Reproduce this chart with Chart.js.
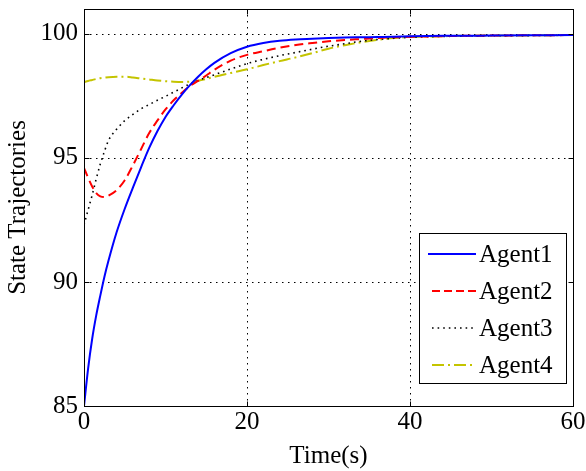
<!DOCTYPE html>
<html>
<head>
<meta charset="utf-8">
<script src="https://cdn.jsdelivr.net/npm/chart.js@4.4.1/dist/chart.umd.min.js"></script>
<style>
html,body{margin:0;padding:0;background:#fff;}
#wrap{width:586px;height:471px;position:relative;}
</style>
</head>
<body>
<div id="wrap"><canvas id="c" width="586" height="471"></canvas></div>
<script>
// ---- data ----
const time   = [0, 0.5, 1, 1.5, 2, 2.5, 3, 4, 5, 6, 7, 8, 9, 10, 11, 12, 13, 14, 15, 16, 18, 20, 22, 24, 26, 28, 30, 32, 34, 36, 38, 40, 45, 50, 55, 60];
const agent1 = [85.0, 86.5, 87.7, 88.65, 89.45, 90.2, 90.85, 92.0, 92.95, 93.8, 94.62, 95.4, 96.07, 96.65, 97.12, 97.55, 97.93, 98.27, 98.57, 98.83, 99.22, 99.48, 99.63, 99.72, 99.77, 99.8, 99.83, 99.85, 99.86, 99.87, 99.88, 99.9, 99.92, 99.93, 99.94, 99.95];
const agent2 = [94.6, 94.2, 93.85, 93.58, 93.45, 93.42, 93.48, 93.7, 94.1, 94.7, 95.35, 96.0, 96.5, 96.95, 97.32, 97.62, 97.9, 98.1, 98.32, 98.55, 98.92, 99.15, 99.3, 99.44, 99.55, 99.63, 99.7, 99.75, 99.79, 99.83, 99.86, 99.88, 99.91, 99.93, 99.94, 99.95];
const agent3 = [92.3, 92.9, 93.5, 94.15, 94.75, 95.25, 95.7, 96.15, 96.5, 96.75, 96.98, 97.15, 97.32, 97.48, 97.65, 97.82, 97.98, 98.12, 98.24, 98.35, 98.58, 98.8, 98.97, 99.12, 99.25, 99.38, 99.5, 99.6, 99.7, 99.77, 99.82, 99.86, 99.9, 99.92, 99.93, 99.95];
const agent4 = [98.05, 98.1, 98.14, 98.18, 98.21, 98.23, 98.25, 98.27, 98.27, 98.24, 98.2, 98.16, 98.12, 98.09, 98.07, 98.06, 98.07, 98.11, 98.18, 98.27, 98.42, 98.57, 98.74, 98.9, 99.05, 99.22, 99.4, 99.54, 99.66, 99.76, 99.83, 99.87, 99.91, 99.93, 99.94, 99.95];
const seriesNames = ['Agent1', 'Agent2', 'Agent3', 'Agent4'];
const xTicks = [0, 20, 40, 60];
const yTicks = [85, 90, 95, 100];
const xTitle = 'Time(s)';
const yTitle = 'State Trajectories';

// ---- styles ----
const FONT = "'Liberation Serif', 'Times New Roman', serif";
const FS = 25;
const styles = [
  {color: '#0000ff', width: 2,   dash: []},
  {color: '#ff0000', width: 2,   dash: [9, 5]},
  {color: '#000000', width: 1.6, dash: [1.6, 4]},
  {color: '#c4c400', width: 2,   dash: [12, 4, 2, 4]}
];
const values = [agent1, agent2, agent3, agent4];

const datasets = values.map((vals, i) => ({
  label: seriesNames[i],
  data: time.map((t, k) => ({x: t, y: vals[k]})),
  borderColor: styles[i].color,
  backgroundColor: styles[i].color,
  borderWidth: styles[i].width,
  borderDash: styles[i].dash,
  pointRadius: 0,
  fill: false,
  cubicInterpolationMode: 'monotone'
}));

const matlabAxes = {
  id: 'matlabAxes',
  beforeDatasetsDraw(chart) {
    const {ctx, chartArea: a, scales: {x, y}} = chart;
    ctx.save();
    ctx.strokeStyle = '#000';
    ctx.lineWidth = 1;
    ctx.setLineDash([1.5, 4.5]);
    xTicks.forEach(v => {
      if (v <= x.min || v >= x.max) return;
      const px = Math.round(x.getPixelForValue(v)) + 0.5;
      ctx.beginPath(); ctx.moveTo(px, a.top); ctx.lineTo(px, a.bottom); ctx.stroke();
    });
    yTicks.forEach(v => {
      if (v <= y.min || v >= y.max) return;
      const py = Math.round(y.getPixelForValue(v)) + 0.5;
      ctx.beginPath(); ctx.moveTo(a.left, py); ctx.lineTo(a.right, py); ctx.stroke();
    });
    ctx.restore();
  },
  afterDatasetsDraw(chart) {
    const {ctx, chartArea: a, scales: {x, y}} = chart;
    ctx.save();
    ctx.strokeStyle = '#000';
    ctx.lineWidth = 1;
    ctx.setLineDash([]);
    const L = Math.round(a.left) + 0.5, R = Math.round(a.right) + 0.5;
    const T = Math.round(a.top) + 0.5, B = Math.round(a.bottom) + 0.5;
    ctx.strokeRect(L, T, R - L, B - T);
    const tl = 5;
    ctx.beginPath();
    xTicks.forEach(v => {
      const px = Math.round(x.getPixelForValue(v)) + 0.5;
      ctx.moveTo(px, B); ctx.lineTo(px, B - tl);
      ctx.moveTo(px, T); ctx.lineTo(px, T + tl);
    });
    yTicks.forEach(v => {
      const py = Math.round(y.getPixelForValue(v)) + 0.5;
      ctx.moveTo(L, py); ctx.lineTo(L + tl, py);
      ctx.moveTo(R, py); ctx.lineTo(R - tl, py);
    });
    ctx.stroke();

    // legend box
    const bx = 419.5, by = 233.5, bw = 147, bh = 150;
    ctx.fillStyle = '#fff';
    ctx.fillRect(bx, by, bw, bh);
    ctx.strokeRect(bx, by, bw, bh);
    const rows = [254, 291, 328, 365];
    ctx.font = FS + 'px ' + FONT;
    ctx.textBaseline = 'middle';
    ctx.textAlign = 'left';
    chart.data.datasets.forEach((ds, i) => {
      const yy = rows[i];
      ctx.save();
      ctx.strokeStyle = ds.borderColor;
      ctx.lineWidth = ds.borderWidth;
      ctx.setLineDash(i === 1 ? [8, 4] : (ds.borderDash || []));
      ctx.beginPath();
      ctx.moveTo(i === 0 ? 428 : 432, yy);
      ctx.lineTo(476, yy);
      ctx.stroke();
      ctx.restore();
      ctx.fillStyle = '#000';
      ctx.fillText(ds.label, 479, yy + 1);
    });
    ctx.restore();
  }
};

const bgPlugin = {
  id: 'bg',
  beforeDraw(chart) {
    const ctx = chart.ctx;
    ctx.save();
    ctx.fillStyle = '#fff';
    ctx.fillRect(0, 0, chart.width, chart.height);
    ctx.restore();
  }
};

new Chart(document.getElementById('c'), {
  type: 'line',
  data: {datasets},
  plugins: [bgPlugin, matlabAxes],
  options: {
    responsive: false,
    animation: false,
    devicePixelRatio: 1,
    layout: {padding: {top: 9, right: 13, left: 0, bottom: 0}},
    plugins: {legend: {display: false}, tooltip: {enabled: false}},
    scales: {
      x: {
        type: 'linear',
        min: 0, max: 60,
        afterBuildTicks: s => { s.ticks = xTicks.map(v => ({value: v})); },
        afterFit: s => { s.height = 65; s.paddingLeft = 0; s.paddingRight = 0; },
        grid: {display: false, drawTicks: false},
        border: {display: false},
        ticks: {color: '#000', font: {family: FONT, size: FS}, padding: 1, maxRotation: 0},
        title: {display: true, text: xTitle, color: '#000', font: {family: FONT, size: FS}, padding: {top: 0, bottom: 0}}
      },
      y: {
        type: 'linear',
        min: 85, max: 101,
        afterBuildTicks: s => { s.ticks = yTicks.map(v => ({value: v})); },
        afterFit: s => { s.width = 84; s.paddingTop = 0; s.paddingBottom = 0; },
        grid: {display: false, drawTicks: false},
        border: {display: false},
        ticks: {color: '#000', font: {family: FONT, size: FS}, padding: 6},
        title: {display: true, text: yTitle, color: '#000', font: {family: FONT, size: FS}, padding: {top: 3, bottom: 0}}
      }
    }
  }
});
</script>
</body>
</html>
